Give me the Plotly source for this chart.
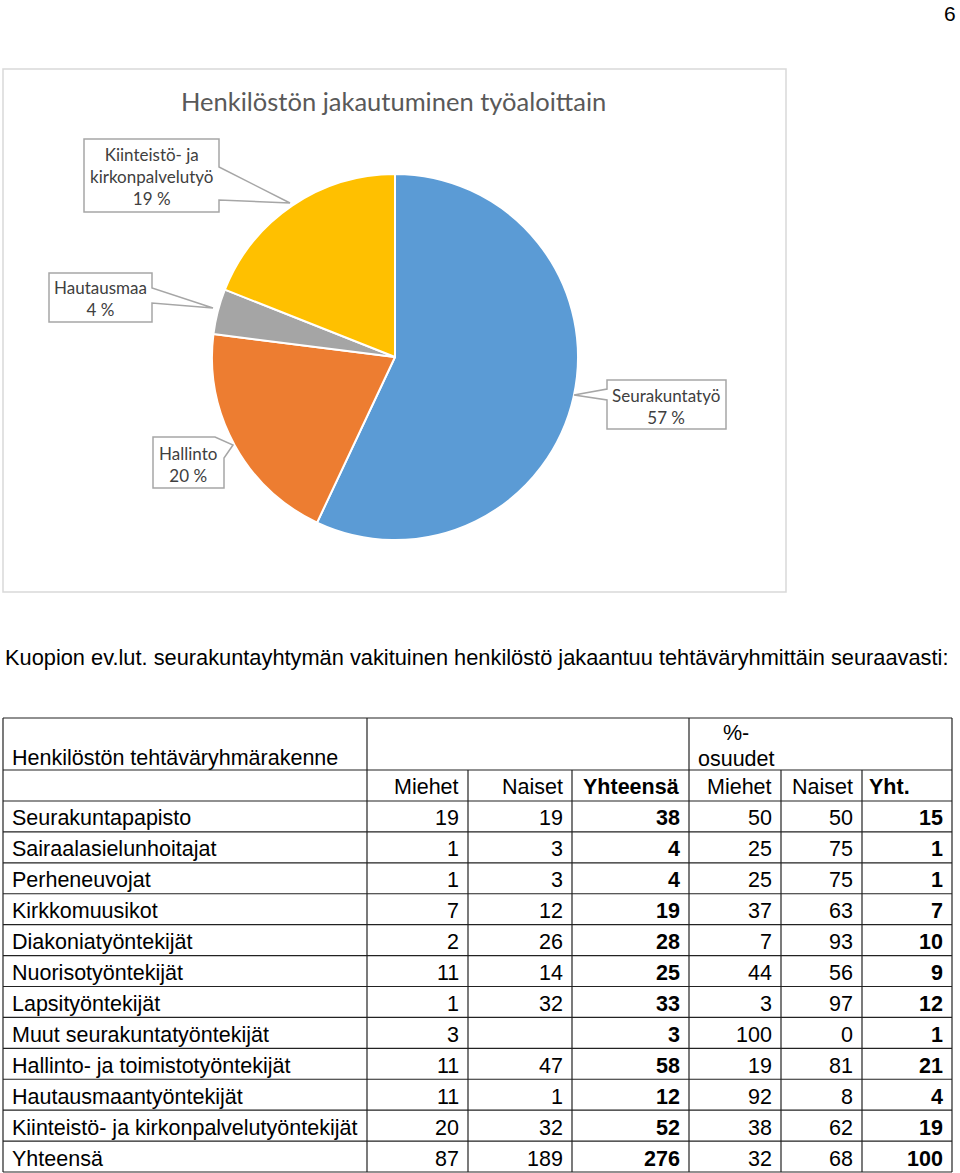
import plotly.graph_objects as go

# ---------------- data ----------------
pie_labels = ["Seurakuntatyö", "Hallinto", "Hautausmaa", "Kiinteistö- ja kirkonpalvelutyö"]
pie_callout_labels = ["Seurakuntatyö", "Hallinto", "Hautausmaa", "Kiinteistö- ja<br>kirkonpalvelutyö"]
pie_values = [57, 20, 4, 19]
pie_colors = ["#5B9BD5", "#ED7D31", "#A5A5A5", "#FFC000"]

categories = ["Seurakuntapapisto", "Sairaalasielunhoitajat", "Perheneuvojat", "Kirkkomuusikot",
              "Diakoniatyöntekijät", "Nuorisotyöntekijät", "Lapsityöntekijät",
              "Muut seurakuntatyöntekijät", "Hallinto- ja toimistotyöntekijät",
              "Hautausmaantyöntekijät", "Kiinteistö- ja kirkonpalvelutyöntekijät", "Yhteensä"]
miehet = [19, 1, 1, 7, 2, 11, 1, 3, 11, 11, 20, 87]
naiset = [19, 3, 3, 12, 26, 14, 32, None, 47, 1, 32, 189]
yhteensa = [38, 4, 4, 19, 28, 25, 33, 3, 58, 12, 52, 276]
miehet_pct = [50, 25, 25, 37, 7, 44, 3, 100, 19, 92, 38, 32]
naiset_pct = [50, 75, 75, 63, 93, 56, 97, 0, 81, 8, 62, 68]
yht_pct = [15, 1, 1, 7, 10, 9, 12, 1, 21, 4, 19, 100]
col_headers = ["Miehet", "Naiset", "Yhteensä", "Miehet", "Naiset", "Yht."]
col_bold = [False, False, True, False, False, True]

chart_title = "Henkilöstön jakautuminen työaloittain"
intro_text = "Kuopion ev.lut. seurakuntayhtymän vakituinen henkilöstö jakaantuu tehtäväryhmittäin seuraavasti:"
table_title = "Henkilöstön tehtäväryhmärakenne"
pct_header_1 = "%-"
pct_header_2 = "osuudet"
page_number = "6"

# ---------------- layout constants ----------------
W, H = 960, 1173
cx, cy, r = 395, 357, 183
TXT = "Liberation Sans, Arial, sans-serif"
CAL = "Lato, Calibri, sans-serif"

fig = go.Figure()
# invisible cartesian layer in page pixels (for table and callouts)
fig.add_trace(go.Scatter(x=[0, W], y=[0, H], mode="markers", marker=dict(opacity=0),
                         hoverinfo="skip", showlegend=False))

fig.add_trace(go.Pie(
    labels=pie_labels, values=pie_values, sort=False, direction="clockwise", rotation=0,
    marker=dict(colors=pie_colors, line=dict(color="white", width=2)),
    textinfo="none", hoverinfo="label+percent", showlegend=False,
    domain=dict(x=[(cx - r) / W, (cx + r) / W], y=[1 - (cy + r) / H, 1 - (cy - r) / H]),
))

shapes = []
annots = []

def line(x0, y0, x1, y1, color="#222222", w=1.2):
    shapes.append(dict(type="line", xref="x", yref="y", x0=x0, y0=y0, x1=x1, y1=y1,
                       line=dict(color=color, width=w), layer="above"))

def text(x, y, s, anchor="left", size=21.5, bold=False, font=TXT, color="black"):
    annots.append(dict(xref="x", yref="y", x=x, y=y, text=(f"<b>{s}</b>" if bold else s),
                       showarrow=False, xanchor=anchor, yanchor="middle",
                       align=anchor if anchor != "center" else "center",
                       font=dict(family=font, size=size, color=color)))

# page number
text(958, 13, page_number, anchor="right", size=21)

# chart frame
shapes.append(dict(type="rect", xref="x", yref="y", x0=3, y0=69, x1=786, y1=592,
                   line=dict(color="#D9D9D9", width=1.5), layer="below"))
text(393, 101, chart_title, anchor="center", size=25.5, font=CAL, color="#595959")

# callouts (box + pointer)
callout_paths = [
    "M607,380 L726,380 L726,429 L607,429 L607,400 L574,395 L607,389 Z",
    "M153,437 L215,437 L233,445 L224,458 L224,488 L153,488 Z",
    "M49,273 L152,273 L152,288 L213,308 L152,303 L152,322 L49,322 Z",
    "M84,139 L219,139 L219,167 L290,203 L219,200 L219,212 L84,212 Z",
]
callout_text_pos = [(666, 406), (188, 464), (100, 298), (151, 176)]
for i, p in enumerate(callout_paths):
    shapes.append(dict(type="path", xref="x", yref="y", path=p, fillcolor="white",
                       line=dict(color="#A6A6A6", width=1.5), layer="above"))
    tx, ty = callout_text_pos[i]
    text(tx, ty, f"{pie_callout_labels[i]}<br>{pie_values[i]} %", anchor="center",
         size=17, font=CAL, color="#404040")

# intro text
text(3, 657, intro_text, size=21.8)

# table grid
col_edges = [3, 367, 468, 572, 689, 781, 862, 952]
y_top, y_h1, y_h2 = 718, 770, 801
row_h = (1172 - y_h2) / len(categories)
row_edges = [y_h2 + i * row_h for i in range(len(categories) + 1)]

for y in [y_top, y_h1] + row_edges:
    line(col_edges[0], y, col_edges[-1], y)
for x in [col_edges[0], col_edges[1], col_edges[4], col_edges[-1]]:
    line(x, y_top, x, row_edges[-1])
for x in [col_edges[2], col_edges[3], col_edges[5], col_edges[6]]:
    line(x, y_h1, x, row_edges[-1])

pad = 7
text(col_edges[0] + pad, 758, table_title)
text(col_edges[4] + 32, 733, pct_header_1)
text(col_edges[4] + pad, 759, pct_header_2)

for j, h in enumerate(col_headers):
    if j == 5:
        text(col_edges[j + 1] + 5, (y_h1 + y_h2) / 2 + 1.5, h, bold=True)
    else:
        text(col_edges[j + 2] - pad, (y_h1 + y_h2) / 2 + 1.5, h, anchor="right", bold=col_bold[j])

columns = [miehet, naiset, yhteensa, miehet_pct, naiset_pct, yht_pct]
for i, cat in enumerate(categories):
    yc = (row_edges[i] + row_edges[i + 1]) / 2 + 2
    text(col_edges[0] + pad, yc, cat)
    for j, col in enumerate(columns):
        v = col[i]
        if v is None:
            continue
        text(col_edges[j + 2] - pad, yc, str(v), anchor="right", bold=col_bold[j])

fig.update_layout(
    width=W, height=H, margin=dict(l=0, r=0, t=0, b=0),
    paper_bgcolor="white", plot_bgcolor="rgba(0,0,0,0)",
    xaxis=dict(range=[0, W], visible=False, fixedrange=True, domain=[0, 1]),
    yaxis=dict(range=[H, 0], visible=False, fixedrange=True, domain=[0, 1]),
    shapes=shapes, annotations=annots, showlegend=False,
)
fig.write_html("out.html")
